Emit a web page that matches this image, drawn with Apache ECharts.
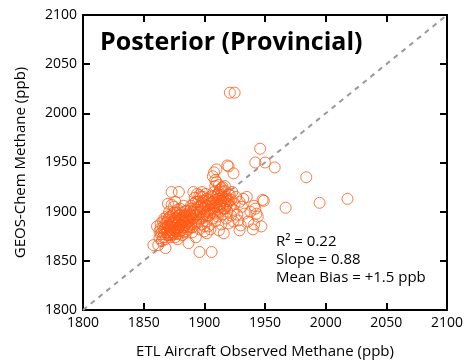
<!DOCTYPE html>
<html><head><meta charset="utf-8">
<script src="https://cdn.jsdelivr.net/npm/echarts@6/dist/echarts.min.js"></script>
<style>html,body{margin:0;padding:0;background:#fff}#c{width:468px;height:364px}</style>
</head><body><div id="c"></div>
<script>
const xTicks = [1800, 1850, 1900, 1950, 2000, 2050, 2100];
const yTicks = [1800, 1850, 1900, 1950, 2000, 2050, 2100];
const oneToOne = [[1800, 1800], [2100, 2100]];
const titleText = 'Posterior (Provincial)';
const statsText = ['R\u00B2 = 0.22', 'Slope = 0.88', 'Mean Bias = +1.5 ppb'];
const xName = 'ETL Aircraft Observed Methane (ppb)';
const yName = 'GEOS-Chem Methane (ppb)';
const obsModel = [
[1858,1866],[1862,1866],[1868,1863],[1865,1870],[1861,1885],[1863,1880],[1864,1877],[1866,1874],[1867,1882],[1868,1888],
[1869,1879],[1870,1885],[1870,1892],[1871,1876],[1872,1881],[1872,1895],[1873,1888],[1874,1878],[1874,1884],[1875,1891],
[1875,1899],[1876,1874],[1876,1886],[1877,1880],[1877,1894],[1878,1889],[1878,1902],[1879,1877],[1879,1884],[1880,1892],
[1880,1897],[1881,1881],[1881,1887],[1882,1876],[1882,1894],[1883,1884],[1883,1890],[1884,1900],[1885,1880],[1885,1888],
[1886,1893],[1886,1885],[1864,1888],[1866,1884],[1869,1895],[1871,1900],[1873,1907],[1870,1908],[1873,1920],[1879,1920],
[1876,1910],[1878,1872],[1880,1903],[1884,1896],[1867,1893],[1872,1874],[1875,1905],[1883,1906],[1887,1868],
[1887,1890],[1888,1897],[1888,1884],[1889,1903],[1890,1893],[1890,1879],[1891,1899],[1891,1908],[1892,1887],[1892,1914],
[1893,1874],[1893,1896],[1894,1902],[1894,1918],[1895,1890],[1895,1910],[1896,1882],[1896,1899],[1897,1906],[1897,1915],
[1898,1893],[1898,1887],[1899,1903],[1899,1911],[1900,1880],[1900,1897],[1901,1906],[1901,1918],[1902,1890],[1902,1913],
[1903,1885],[1903,1900],[1904,1896],[1905,1908],[1905,1882],[1906,1902],[1906,1916],[1907,1893],[1896,1859],[1906,1859],
[1891,1920],[1898,1920],[1900,1885],[1889,1906],[1893,1910],[1902,1878],
[1907,1910],[1908,1920],[1908,1899],[1909,1926],[1909,1890],[1910,1905],[1910,1930],[1911,1895],[1911,1913],[1912,1881],
[1912,1920],[1913,1900],[1913,1908],[1914,1924],[1914,1887],[1915,1897],[1915,1915],[1916,1903],[1916,1878],[1917,1910],
[1917,1921],[1918,1893],[1918,1906],[1919,1913],[1919,1900],[1920,1888],[1920,1918],[1921,1905],[1922,1896],[1922,1912],
[1923,1920],[1924,1902],[1924,1890],[1925,1908],[1926,1915],[1927,1897],[1928,1891],[1929,1881],[1929,1910],[1930,1886],
[1931,1905],[1932,1913],[1933,1898],[1935,1915],[1908,1940],[1910,1943],[1907,1936],[1909,1932],[1919,1947],[1920,1946],
[1924,1939],[1911,1918],[1913,1922],
[1921,2021],[1925,2021],[1946,1964],[1942,1950],[1950,1950],[1958,1945],[1984,1935],[1967,1904],[1995,1909],[2018,1913],
[1949,1911],[1948,1912],[1947,1885],[1940,1882],[1941,1887],[1942,1903],[1941,1906],[1936,1890],[1938,1900],[1944,1895],[1943,1898],
[1863,1873],[1864,1883],[1865,1879],[1866,1890],[1867,1877],[1868,1884],[1868,1872],[1869,1889],[1870,1881],[1870,1876],
[1871,1887],[1871,1894],[1872,1879],[1872,1885],[1873,1892],[1873,1876],[1874,1889],[1874,1897],[1875,1882],[1875,1877],
[1876,1893],[1876,1880],[1877,1887],[1877,1899],[1878,1883],[1878,1878],[1879,1891],[1879,1896],[1880,1886],[1880,1880],
[1881,1893],[1881,1899],[1882,1884],[1882,1889],[1883,1879],[1883,1896],[1884,1886],[1884,1891],[1885,1895],[1885,1901],
[1886,1882],[1886,1889],[1887,1895],[1887,1885],[1888,1891],[1888,1901],[1889,1887],[1889,1896],[1890,1884],[1890,1900],
[1891,1893],[1892,1902],[1893,1889],[1894,1897],[1895,1905],[1896,1893],[1897,1900],[1898,1909],[1899,1895],[1900,1904],
[1901,1899],[1901,1911],[1902,1896],[1903,1906],[1904,1902],[1904,1912],[1905,1898],[1906,1909],[1907,1903],[1907,1915],
[1908,1906],[1909,1912],[1909,1898],[1910,1909],[1911,1902],[1911,1917],[1912,1907],[1912,1913],[1913,1904],[1914,1911],
[1914,1917],[1915,1906],[1916,1912],[1916,1920],[1917,1903],[1918,1915],[1919,1908],[1920,1911],[1921,1917],[1915,1925],
[1917,1926],[1912,1927],[1896,1917],[1899,1915]
];

const FONT = '"Open Sans", "Noto Sans", sans-serif';
const chart = echarts.init(document.getElementById('c'), null, {renderer: 'canvas'});
const axisCommon = (show) => ({
  type: 'value', min: xTicks[0], max: xTicks[xTicks.length - 1], interval: 50,
  axisLine: {show: true, onZero: false, lineStyle: {color: '#000', width: 2}},
  axisTick: {show: true, inside: true, length: 7, lineStyle: {color: '#000', width: 2}},
  axisLabel: {show: show, color: '#000', fontSize: 14, fontFamily: FONT, margin: 6,
    formatter: (v) => String(v)},
  splitLine: {show: false}
});
const x1 = axisCommon(true);
Object.assign(x1, {position: 'bottom', name: xName, nameLocation: 'middle', nameGap: 34,
  nameTextStyle: {color: '#000', fontSize: 15, fontFamily: FONT}});
const x2 = axisCommon(false); x2.position = 'top';
const y1 = axisCommon(true);
Object.assign(y1, {min: yTicks[0], max: yTicks[yTicks.length - 1], position: 'left', name: yName,
  nameLocation: 'middle', nameGap: 55, nameRotate: 90,
  nameTextStyle: {color: '#000', fontSize: 15, fontFamily: FONT}});
const y2 = axisCommon(false);
Object.assign(y2, {min: yTicks[0], max: yTicks[yTicks.length - 1], position: 'right'});

chart.setOption({
  animation: false,
  grid: {left: 83, right: 21, top: 15, bottom: 53, containLabel: false},
  xAxis: [x1, x2],
  yAxis: [y1, y2],
  title: {text: titleText, left: 100, top: 30, padding: 0,
    textStyle: {fontSize: 25, fontWeight: 'bold', color: '#000', fontFamily: FONT}},
  graphic: [{
    type: 'text', left: 276, top: 233,
    style: {text: statsText.join('\n'), lineHeight: 18, fill: '#000', font: '15px ' + FONT}
  }],
  series: [
    {type: 'line', data: oneToOne, xAxisIndex: 0, yAxisIndex: 0, symbol: 'none', silent: true,
     lineStyle: {color: '#999', width: 2, type: [5, 5]}, z: 1},
    {type: 'scatter', data: obsModel, xAxisIndex: 0, yAxisIndex: 0, symbol: 'circle', symbolSize: 11,
     itemStyle: {color: 'rgba(0,0,0,0)', borderColor: '#ff5a14', borderWidth: 1}, z: 2}
  ]
});
</script></body></html>
